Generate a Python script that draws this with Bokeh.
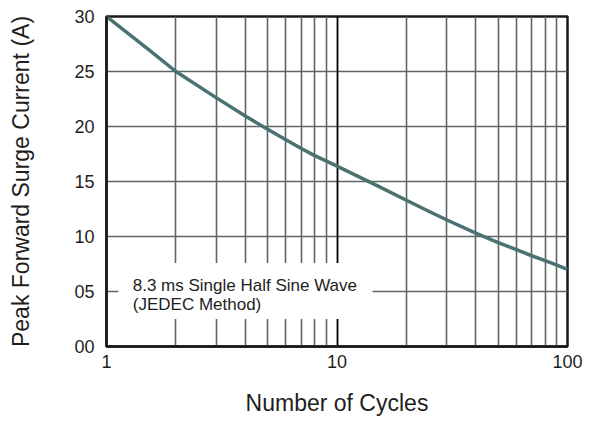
from bokeh.plotting import figure
from bokeh.models import FixedTicker, Grid, BoxAnnotation, Label, Range1d
from bokeh.embed import file_html
from bokeh.resources import INLINE

# Data
cycles = [1, 1.5, 2, 3, 4, 5, 6, 7, 8, 9, 10, 15, 20, 25, 30, 40, 50, 60, 70, 80, 90, 100]
current = [30.0, 27.1, 25.0, 22.6, 20.95, 19.75, 18.8, 18.0, 17.35, 16.85, 16.4, 14.6,
           13.3, 12.3, 11.5, 10.3, 9.45, 8.8, 8.25, 7.8, 7.4, 7.0]
x_ticks = [1, 10, 100]
x_tick_labels = ["1", "10", "100"]
y_ticks = [0, 5, 10, 15, 20, 25, 30]
y_tick_labels = ["00", "05", "10", "15", "20", "25", "30"]
x_minor_grid = [2, 3, 4, 5, 6, 7, 8, 9, 20, 30, 40, 50, 60, 70, 80, 90]
x_decade_grid = [10]
y_grid = [5, 10, 15, 20, 25]
note_lines = ["8.3 ms Single Half Sine Wave", "(JEDEC Method)"]

FONT = "Liberation Sans"
TXT = "#1e1e1e"

p = figure(width=592, height=418, x_axis_type="log",
           x_range=Range1d(1, 100), y_range=Range1d(0, 30),
           output_backend="svg", toolbar_location=None,
           min_border_left=106, min_border_right=25,
           min_border_top=16, min_border_bottom=69)

p.outline_line_color = "#1a1a1a"
p.outline_line_width = 2.5
p.background_fill_color = "white"
p.border_fill_color = "white"

# Axes
p.xaxis.ticker = FixedTicker(ticks=x_ticks)
p.xaxis.major_label_overrides = {t: l for t, l in zip(x_ticks, x_tick_labels)}
p.yaxis.ticker = FixedTicker(ticks=y_ticks)
p.yaxis.major_label_overrides = {t: l for t, l in zip(y_ticks, y_tick_labels)}
for ax in (p.xaxis, p.yaxis):
    ax.axis_line_color = "#1a1a1a"
    ax.axis_line_width = 2.5
    ax.major_tick_in = 0
    ax.major_tick_out = 0
    ax.minor_tick_in = 0
    ax.minor_tick_out = 0
    ax.major_label_text_font = FONT
    ax.major_label_text_font_size = "18px"
    ax.major_label_text_color = TXT
    ax.axis_label_text_font = FONT
    ax.axis_label_text_font_size = "23px"
    ax.axis_label_text_font_style = "normal"
    ax.axis_label_text_color = TXT

p.xaxis.axis_label = "Number of Cycles"
p.yaxis.axis_label = "Peak Forward Surge Current (A)"
p.xaxis.major_label_standoff = 8
p.yaxis.major_label_standoff = 12
p.xaxis.axis_label_standoff = 19
p.yaxis.axis_label_standoff = 37

# Grid
p.xgrid.ticker = FixedTicker(ticks=x_minor_grid)
p.xgrid.grid_line_color = "#5f6563"
p.xgrid.grid_line_width = 1.6
p.ygrid.ticker = FixedTicker(ticks=y_grid)
p.ygrid.grid_line_color = "#5f6563"
p.ygrid.grid_line_width = 1.6
p.add_layout(Grid(dimension=0, ticker=FixedTicker(ticks=x_decade_grid),
                  grid_line_color="black", grid_line_width=1.8))

# Curve
p.line(cycles, current, line_color="#4a7272", line_width=3.5, line_join="round")

# Note box
p.add_layout(BoxAnnotation(left=1.127, right=14.26, bottom=2.5, top=7.6,
                           fill_color="white", fill_alpha=1.0,
                           line_color=None))
p.add_layout(Label(x=1.3, y=5.55, text=note_lines[0], text_font=FONT,
                   text_font_size="17px", text_color=TXT,
                   text_baseline="alphabetic"))
p.add_layout(Label(x=1.3, y=3.85, text=note_lines[1], text_font=FONT,
                   text_font_size="17px", text_color=TXT,
                   text_baseline="alphabetic"))

open("out.html", "w").write(file_html(p, INLINE))
